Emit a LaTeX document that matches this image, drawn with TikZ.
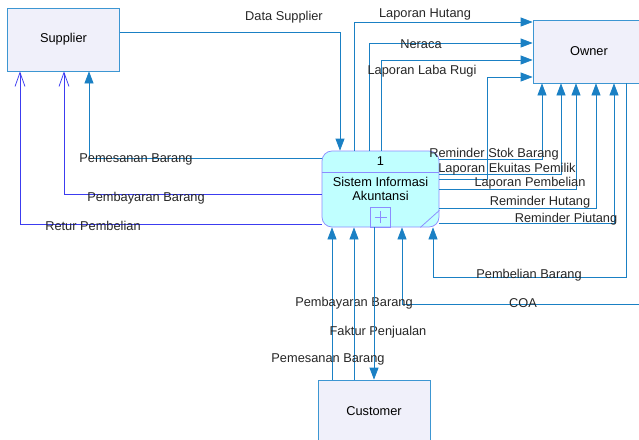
\documentclass[tikz,border=0pt]{standalone}
\usepackage{fontspec}
\setmainfont{Liberation Sans}
\usepackage{xcolor}
\usetikzlibrary{arrows.meta, positioning}

\definecolor{flowblue}{HTML}{1A80C4}
\definecolor{retblue}{HTML}{3C3CF0}
\definecolor{entfill}{HTML}{F0F0FA}
\definecolor{entline}{HTML}{3C96D2}
\definecolor{procfill}{HTML}{C0FFFF}
\definecolor{procline}{HTML}{8C8CFF}

\begin{document}
\begin{tikzpicture}[x=1pt,y=-1pt,line width=0.75pt,font=\fontsize{12.8}{14}\selectfont,
        entity/.style={draw=entline,fill=entfill,minimum width=112pt,minimum height=63pt,inner sep=0pt},
        process/.style={draw=procline,fill=procfill,rounded corners=10pt,minimum width=117pt,minimum height=76pt,inner sep=0pt,align=center},
        flow/.style={draw=flowblue,-{Triangle[length=12pt,width=9pt]}},
        back/.style={draw=retblue,-{Straight Barb[length=14pt,width=10pt]}},
        lbl/.style={text=black!85,inner sep=0pt,yshift=-1.5pt}]

    \useasboundingbox (0,0) rectangle (639,439);

    % external entities
    \node[entity] (sup) at (63.5,39.5)  {Supplier};
    \node[entity] (own) at (589,51.5)   {Owner};
    \node[entity] (cus) at (374,411.5)  {Customer};
    \coordinate (coa) at (645,304);

    % process 1
    \node[process] (sis) at (380.5,189) {Sistem Informasi\\Akuntansi};
    \node[inner sep=0pt] (sisid) [below=6pt of sis.north] {1};
    \draw[procline] (sis.west |- 0,172) -- (sis.east |- 0,172);
    \node[draw=procline,minimum size=20pt,inner sep=0pt] (sisplus) [above=0pt of sis.south] {};
    \draw[procline,line width=0.5pt] ([xshift=-6pt]sisplus.center) -- ([xshift=6pt]sisplus.center)
                    ([yshift=-6pt]sisplus.center) -- ([yshift=6pt]sisplus.center);
    \draw[procline] ([xshift=-19pt]sis.south east) -- ([yshift=17pt]sis.south east);

    % supplier side
    \draw[flow] (sup.east |- 0,32) -| (sis.north -| 340,0)
        node[lbl] at (284,16) {Data Supplier};
    \draw[flow] (sis.west |- 0,158) -| (sup.south -| 89,0)
        node[lbl] at (136,158) {Pemesanan Barang};
    \draw[back] (sis.west |- 0,194) -| (sup.south -| 64,0)
        node[lbl] at (146,197) {Pembayaran Barang};
    \draw[back] (sis.west |- 0,224) -| (sup.south -| 20,0)
        node[lbl] at (93,224) {Retur Pembelian};

    % reports to owner
    \draw[flow] (sis.north -| 354,0) |- (own.west |- 0,22)
        node[lbl] at (425,13) {Laporan Hutang};
    \draw[flow] (sis.north -| 369,0) |- (own.west |- 0,43)
        node[lbl] at (421,43) {Neraca};
    \draw[flow] (sis.north -| 381,0) |- (own.west |- 0,60)
        node[lbl] at (422,70) {Laporan Laba Rugi};
    \draw[flow] (sis.east |- 0,179) -- (487,179) |- (own.west |- 0,77);
    \draw[flow] (sis.east |- 0,159) -| (own.south -| 542,0)
        node[lbl] at (494,153) {Reminder Stok Barang};
    \draw[flow] (sis.east |- 0,174) -| (own.south -| 561,0)
        node[lbl] at (507,168) {Laporan Ekuitas Pemilik};
    \draw[flow] (sis.east |- 0,189) -| (own.south -| 576,0)
        node[lbl] at (530,182) {Laporan Pembelian};
    \draw[flow] (sis.east |- 0,208) -| (own.south -| 596,0)
        node[lbl] at (540,201) {Reminder Hutang};
    \draw[flow] (sis.east |- 0,223) -| (own.south -| 614,0)
        node[lbl] at (566,218) {Reminder Piutang};

    % back into the process
    \draw[flow] (own.south -| 626,0) -- (626,277) -| (sis.south -| 433,0)
        node[lbl] at (529,274) {Pembelian Barang};
    \draw[flow] (coa) -| (sis.south -| 402,0)
        node[lbl] at (523,302) {COA};

    % customer side
    \draw[flow] (cus.north -| 332,0) -- (sis.south -| 332,0)
        node[lbl] at (354,302) {Pembayaran Barang};
    \draw[flow] (cus.north -| 354,0) -- (sis.south -| 354,0)
        node[lbl] at (378,331) {Faktur Penjualan};
    \draw[flow] (sis.south -| 374,0) -- (cus.north -| 374,0)
        node[lbl] at (328,358) {Pemesanan Barang};
\end{tikzpicture}
\end{document}
